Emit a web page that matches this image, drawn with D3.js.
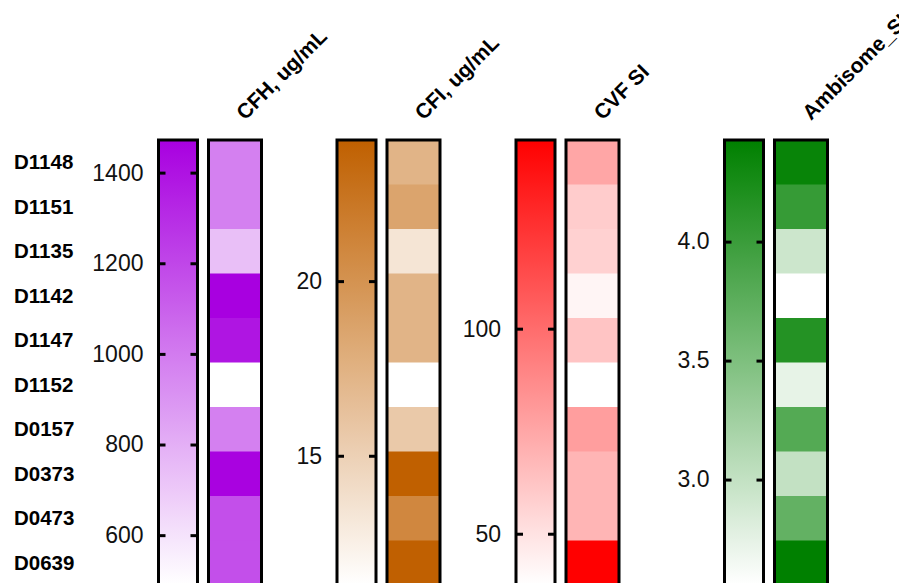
<!DOCTYPE html>
<html>
<head>
<meta charset="utf-8">
<script src="https://cdn.jsdelivr.net/npm/d3@7"></script>
<style>
  html, body { margin: 0; padding: 0; background: #fff; overflow: hidden; }
  svg { display: block; font-family: Arial, "Liberation Sans", Helvetica, sans-serif; }
</style>
</head>
<body>
<svg id="chart" width="899" height="583"></svg>
<script>
// ---- data ----
const rows = ["D1148","D1151","D1135","D1142","D1147","D1152","D0157","D0373","D0473","D0639"];
const seriesNames = ["CFH, ug/mL", "CFI, ug/mL", "CVF SI", "Ambisome_SI"];
const cfhValues = [981, 981, 735, 1472, 1393, 490, 981, 1465, 1168, 1168];
const cfiValues = [17.3, 18.6, 13.4, 17.3, 17.3, 11.3, 15.6, 24.04, 20.9, 24.0];
const cvfValues = [75.5, 59.2, 57.0, 41.8, 62.5, 37.5, 78.7, 69.0, 69.0, 146.0];
const ambValues = [4.37, 4.03, 2.93, 2.557, 4.16, 2.73, 3.81, 3.0, 3.70, 4.427];
const cfhTicks = [600, 800, 1000, 1200, 1400];
const cfiTicks = [15, 20];
const cvfTicks = [50, 100];
const ambTicks = [3.0, 3.5, 4.0];

// ---- layout / style ----
const maxColors = ["#a800e0", "#c06000", "#ff0000", "#008000"];
const tickFormats = [d3.format("d"), d3.format("d"), d3.format("d"), d3.format(".1f")];
const barX = [158.5, 337, 516, 724.5];
const barW = 39, hmOffset = 50, hmW = 53;
const plotTop = 140, plotBottom = 585;

const series = [
  { name: seriesNames[0], values: cfhValues, ticks: cfhTicks },
  { name: seriesNames[1], values: cfiValues, ticks: cfiTicks },
  { name: seriesNames[2], values: cvfValues, ticks: cvfTicks },
  { name: seriesNames[3], values: ambValues, ticks: ambTicks }
];

const svg = d3.select("#chart");
const defs = svg.append("defs");

const y = d3.scaleBand().domain(rows).range([plotTop, plotBottom]).padding(0);

// row labels
svg.append("g").selectAll("text").data(rows).join("text")
  .attr("x", 14)
  .attr("y", d => y(d) + y.bandwidth() / 2)
  .attr("dy", "0.35em")
  .attr("font-size", 20.5)
  .attr("font-weight", "bold")
  .attr("fill", "#000")
  .text(d => d);

series.forEach((s, i) => {
  const ext = d3.extent(s.values);
  const color = d3.scaleLinear().domain(ext).range(["#ffffff", maxColors[i]]).interpolate(d3.interpolateRgb);
  const vScale = d3.scaleLinear().domain(ext).range([plotBottom, plotTop]);
  const g = svg.append("g");
  const bx = barX[i];
  const hx = bx + hmOffset;

  // gradient
  const gid = "grad" + i;
  const grad = defs.append("linearGradient").attr("id", gid)
    .attr("x1", 0).attr("y1", 1).attr("x2", 0).attr("y2", 0);
  d3.range(0, 1.0001, 0.1).forEach(t => {
    grad.append("stop").attr("offset", t)
      .attr("stop-color", color(ext[0] + t * (ext[1] - ext[0])));
  });

  g.append("rect")
    .attr("x", bx).attr("y", plotTop).attr("width", barW).attr("height", plotBottom - plotTop)
    .attr("fill", `url(#${gid})`)
    .attr("stroke", "#000").attr("stroke-width", 3);

  // axes ticks on colorbar
  const axL = d3.axisLeft(vScale).tickValues(s.ticks).tickFormat(tickFormats[i])
    .tickSizeInner(-7).tickSizeOuter(0).tickPadding(15);
  const gl = g.append("g").attr("transform", `translate(${bx},0)`).call(axL);
  gl.select(".domain").remove();
  gl.selectAll("line").attr("stroke", "#000").attr("stroke-width", 3);
  gl.selectAll("text").attr("font-size", 23).attr("fill", "#111")
    .attr("font-family", "Arial, 'Liberation Sans', Helvetica, sans-serif");

  const axR = d3.axisRight(vScale).tickValues(s.ticks).tickFormat("")
    .tickSizeInner(-7).tickSizeOuter(0);
  const gr = g.append("g").attr("transform", `translate(${bx + barW},0)`).call(axR);
  gr.select(".domain").remove();
  gr.selectAll("line").attr("stroke", "#000").attr("stroke-width", 3);

  // heatmap cells
  g.append("g").selectAll("rect").data(rows).join("rect")
    .attr("x", hx).attr("y", d => y(d))
    .attr("width", hmW).attr("height", y.bandwidth() + 0.5)
    .attr("fill", (d, j) => color(s.values[j]));

  g.append("rect")
    .attr("x", hx).attr("y", plotTop).attr("width", hmW).attr("height", plotBottom - plotTop)
    .attr("fill", "none").attr("stroke", "#000").attr("stroke-width", 3);

  // title
  const tx = hx + hmW / 2 + 10, ty = 121;
  g.append("text")
    .attr("transform", `translate(${tx},${ty}) rotate(-45)`)
    .attr("font-size", 21)
    .attr("font-weight", "bold")
    .attr("fill", "#000")
    .text(s.name);
});
</script>
</body>
</html>
